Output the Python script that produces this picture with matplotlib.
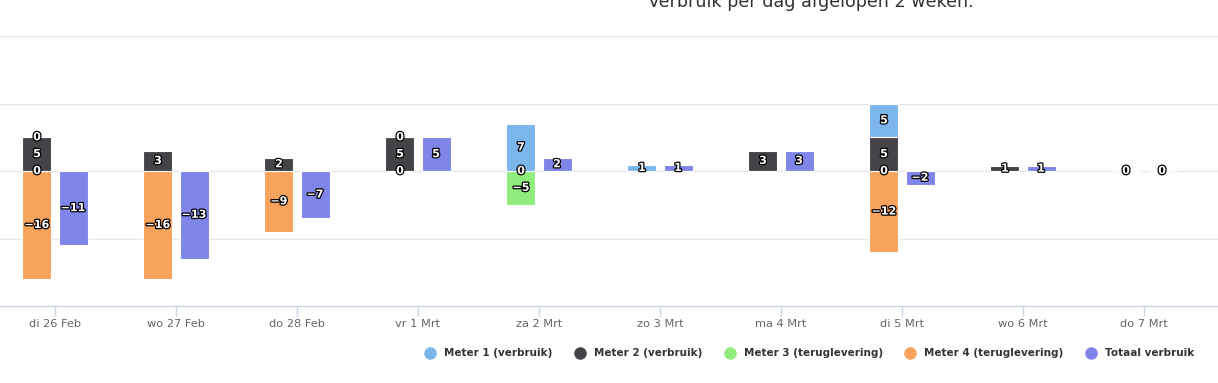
import numpy as np
import matplotlib
matplotlib.use("Agg")
import matplotlib.pyplot as plt
import matplotlib.patheffects as pe
from matplotlib.lines import Line2D

categories = ["di 26 Feb", "wo 27 Feb", "do 28 Feb", "vr 1 Mrt", "za 2 Mrt",
              "zo 3 Mrt", "ma 4 Mrt", "di 5 Mrt", "wo 6 Mrt", "do 7 Mrt"]
nan = np.nan
meter1 = [0, nan, nan, 0, 7, 0.9, nan, 5, nan, 0]
meter2 = [5, 3, 2, 5, nan, nan, 3, 5, 0.7, nan]
meter3 = [0, nan, nan, 0, -5, nan, nan, 0, nan, nan]
meter4 = [-16, -16, -9, nan, 0, nan, nan, -12, nan, nan]
totaal = [-11, -13, -7, 5, 2, 0.9, 3, -2, 0.7, 0]

series_names = ["Meter 1 (verbruik)", "Meter 2 (verbruik)", "Meter 3 (teruglevering)",
                "Meter 4 (teruglevering)", "Totaal verbruik"]
colors = ["#7cb5ec", "#434348", "#90ed7d", "#f7a35c", "#8085e9"]

W, H = 1218, 383
fig = plt.figure(figsize=(W / 100, H / 100), dpi=100)
ax = fig.add_axes([0, 1 - 306 / H, 1, (306 - 36) / H])

n = len(categories)
x = np.arange(n)
ax.set_xlim(-55 / 121, (W - 55) / 121)
ax.set_ylim(-20, 20)

bw = 0.24
off = 0.149
outline = [pe.withStroke(linewidth=1.8, foreground="black")]


def label(xp, yp, v):
    ax.text(xp, yp, f"{int(round(v))}".replace("-", "\u2212"), ha="center", va="center",
            color="white", fontsize=8, fontweight="bold", path_effects=outline, zorder=5)


meters = [meter1, meter2, meter3, meter4]
pos = np.zeros(n)
neg = np.zeros(n)
labels = []
for si in [3, 2, 1, 0]:
    vals = meters[si]
    for i in range(n):
        v = vals[i]
        if np.isnan(v):
            continue
        if v >= 0:
            b = pos[i]
            pos[i] += v
        else:
            b = neg[i] + v
            neg[i] += v
        ax.bar(x[i] - off, v if v >= 0 else -v, bottom=b, width=bw, color=colors[si],
               edgecolor="white", linewidth=0.8, zorder=3)
        labels.append((x[i] - off, b + abs(v) / 2, v))

for i in range(n):
    v = totaal[i]
    if np.isnan(v):
        continue
    ax.bar(x[i] + off, v, width=bw, color=colors[4], edgecolor="white", linewidth=0.8, zorder=3)
    labels.append((x[i] + off, v / 2, v))

for l in labels:
    label(*l)

ax.set_yticks([-10, 0, 10, 20])
ax.yaxis.grid(True, color="#e6e6e6", linewidth=1)
ax.set_axisbelow(True)
for s in ["top", "right", "left"]:
    ax.spines[s].set_visible(False)
ax.spines["bottom"].set_color("#ccd6eb")
ax.spines["bottom"].set_linewidth(1)
ax.tick_params(axis="y", left=False, labelleft=False)
ax.set_xticks(x)
ax.set_xticklabels(categories)
ax.tick_params(axis="x", length=7.2, width=1, color="#ccd6eb", labelsize=8.2,
               labelcolor="#666666", pad=2)

fig.text(811 / W, 1 - 7 / H, "Verbruik per dag afgelopen 2 weken.", ha="center",
         va="baseline", fontsize=12.6, color="#333333")

circ_x = [430, 580, 730, 910, 1091]
for cx, name, c in zip(circ_x, series_names, colors):
    fig.add_artist(Line2D([cx / W], [1 - 353 / H], marker="o", markersize=8,
                          color=c, linestyle="none", transform=fig.transFigure))
    fig.text((cx + 14) / W, 1 - 353 / H, name, ha="left", va="center",
             fontsize=7.5, fontweight="bold", color="#333333")

fig.savefig("out.png", dpi=100)
